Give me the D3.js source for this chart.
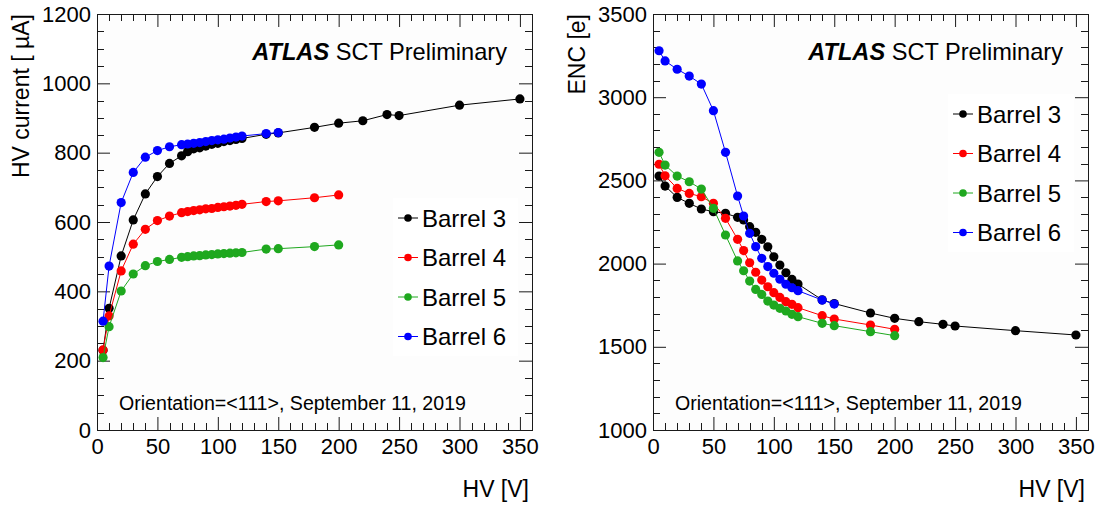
<!DOCTYPE html>
<html>
<head>
<meta charset="utf-8">
<script src="https://cdn.jsdelivr.net/npm/d3@7"></script>
<style>
  body { margin: 0; background: #fff; }
  svg { display: block; font-family: "Liberation Sans", Arial, Helvetica, sans-serif; }
</style>
</head>
<body>
<div id="container"></div>
<script>
/* DATA: HV POINTS [V] PER BARREL */
const hvB3 = [5, 10, 20, 30, 40, 50, 60, 70, 75, 80, 85, 90, 95, 100, 105, 110, 115, 120, 140, 150, 180, 200, 220, 240, 250, 300, 350];
const hvB4 = [5, 10, 20, 30, 40, 50, 60, 70, 75, 80, 85, 90, 95, 100, 105, 110, 115, 120, 140, 150, 180, 200];
const hvB5 = [5, 10, 20, 30, 40, 50, 60, 70, 75, 80, 85, 90, 95, 100, 105, 110, 115, 120, 140, 150, 180, 200];
const hvB6 = [5, 10, 20, 30, 40, 50, 60, 70, 75, 80, 85, 90, 95, 100, 105, 110, 115, 120, 140, 150];

/* HV CURRENT [uA] */
const curB3 = [230, 351, 502, 606, 681, 731, 769, 791, 803, 811, 814, 819, 824, 827, 832, 835, 838, 841, 853, 857, 873, 885, 892, 910, 907, 937, 955];
const curB4 = [231, 329, 459, 536, 579, 604, 617, 627, 630, 633, 635, 638, 639, 642, 644, 646, 648, 651, 659, 661, 670, 678];
const curB5 = [209, 298, 401, 450, 474, 486, 492, 498, 500, 502, 503, 505, 506, 508, 509, 510, 511, 512, 522, 523, 529, 534];
const curB6 = [314, 473, 656, 743, 787, 806, 817, 823, 825, 827, 829, 832, 835, 837, 839, 842, 845, 848, 855, 858];

/* ENC [e] */
const encB3 = [2526, 2466, 2398, 2362, 2328, 2312, 2302, 2278, 2262, 2222, 2188, 2146, 2101, 2041, 1991, 1945, 1905, 1877, 1782, 1760, 1703, 1671, 1651, 1635, 1625, 1597, 1571];
const encB4 = [2597, 2528, 2452, 2422, 2402, 2362, 2272, 2146, 2078, 2005, 1948, 1901, 1861, 1825, 1797, 1771, 1755, 1735, 1687, 1667, 1631, 1605];
const encB5 = [2669, 2592, 2526, 2492, 2448, 2332, 2172, 2016, 1957, 1895, 1845, 1815, 1775, 1751, 1731, 1715, 1695, 1681, 1641, 1627, 1591, 1567];
const encB6 = [3279, 3218, 3168, 3127, 3079, 2919, 2669, 2406, 2286, 2182, 2102, 2032, 1982, 1942, 1906, 1876, 1855, 1837, 1781, 1757];

const barrelNames = ["Barrel 3", "Barrel 4", "Barrel 5", "Barrel 6"];
const barrelColors = ["#000000", "#ff0000", "#1fa81f", "#0000ff"];

/* TICKS */
const xMajor = [0, 50, 100, 150, 200, 250, 300, 350];
const curMajor = [0, 200, 400, 600, 800, 1000, 1200];
const encMajor = [1000, 1500, 2000, 2500, 3000, 3500];

/* CONSTANTS AND GLOBALS */
const width = 1097, height = 507;
const frameColor = "#1a1a1a";

const series = barrelNames.map((name, i) => ({
  name,
  color: barrelColors[i],
  hv: [hvB3, hvB4, hvB5, hvB6][i],
  cur: [curB3, curB4, curB5, curB6][i],
  enc: [encB3, encB4, encB5, encB6][i]
}));

const svg = d3.select("#container")
  .append("svg")
  .attr("width", width)
  .attr("height", height);

function drawPanel(p) {
  const x = d3.scaleLinear().domain([0, 360]).range([p.x0, p.x1]);
  const y = d3.scaleLinear().domain(p.yDomain).range([p.y1, p.y0]);
  const g = svg.append("g");

  // FRAME
  g.append("rect")
    .attr("x", p.x0 + 0.5).attr("y", p.y0 + 0.5)
    .attr("width", p.x1 - p.x0).attr("height", p.y1 - p.y0)
    .attr("fill", "#fdfdfd")
    .attr("stroke", frameColor);

  // MINOR TICKS
  const xMinor = d3.range(0, 361, 10).filter(v => v % 50 !== 0);
  const yMinor = d3.range(p.yDomain[0], p.yDomain[1] + 1, p.yMinorStep).filter(v => v % p.yMajorStep !== 0);

  const ticks = g.append("g").attr("stroke", frameColor).attr("stroke-width", 1);
  xMinor.forEach(v => {
    const px = Math.round(x(v)) + 0.5;
    ticks.append("line").attr("x1", px).attr("x2", px).attr("y1", p.y1).attr("y2", p.y1 - 7);
    ticks.append("line").attr("x1", px).attr("x2", px).attr("y1", p.y0).attr("y2", p.y0 + 7);
  });
  yMinor.forEach(v => {
    const py = Math.round(y(v)) + 0.5;
    ticks.append("line").attr("y1", py).attr("y2", py).attr("x1", p.x0).attr("x2", p.x0 + 7);
    ticks.append("line").attr("y1", py).attr("y2", py).attr("x1", p.x1).attr("x2", p.x1 - 7);
  });

  // MAJOR TICKS + LABELS
  const axB = g.append("g").attr("transform", `translate(0,${p.y1})`)
    .call(d3.axisBottom(x).tickValues(xMajor).tickSize(-13).tickPadding(8).tickFormat(d3.format("d")));
  const axT = g.append("g").attr("transform", `translate(0,${p.y0})`)
    .call(d3.axisTop(x).tickValues(xMajor).tickSize(-13).tickFormat(""));
  const axL = g.append("g").attr("transform", `translate(${p.x0},0)`)
    .call(d3.axisLeft(y).tickValues(p.yMajor).tickSize(-13).tickPadding(6).tickFormat(d3.format("d")));
  const axR = g.append("g").attr("transform", `translate(${p.x1},0)`)
    .call(d3.axisRight(y).tickValues(p.yMajor).tickSize(-13).tickFormat(""));

  [axB, axT, axL, axR].forEach(a => {
    a.select(".domain").remove();
    a.selectAll("line").attr("stroke", frameColor);
    a.selectAll("text")
      .attr("fill", "#000")
      .style("font-size", "22px")
      .style("font-family", "'Liberation Sans', Arial, sans-serif");
  });

  // AXIS TITLES
  g.append("text")
    .attr("x", p.x1 - 3).attr("y", 497)
    .attr("text-anchor", "end")
    .style("font-size", "23px")
    .text("HV [V]");

  g.append("text")
    .attr("transform", `translate(${p.x0 - 68},${p.y0}) rotate(-90)`)
    .attr("text-anchor", "end")
    .style("font-size", "23px")
    .text(p.yTitle);

  // DATA LINES AND MARKERS
  series.forEach(s => {
    const pts = s.hv.map((v, i) => [v, s[p.key][i]]);
    g.append("path")
      .datum(pts)
      .attr("fill", "none")
      .attr("stroke", s.color)
      .attr("stroke-width", 1)
      .attr("d", d3.line().x(d => x(d[0])).y(d => y(d[1])));
    g.selectAll(null)
      .data(pts)
      .join("circle")
      .attr("cx", d => x(d[0]))
      .attr("cy", d => y(d[1]))
      .attr("r", 4.6)
      .attr("fill", s.color);
  });

  // ATLAS LABEL
  const lab = g.append("text")
    .attr("x", p.atlasX).attr("y", 60)
    .attr("text-anchor", "end")
    .style("font-size", "23.6px");
  lab.append("tspan").style("font-weight", "bold").style("font-style", "italic").text("ATLAS");
  lab.append("tspan").text(" SCT Preliminary");

  // LEGEND
  const leg = g.append("g");
  leg.append("rect")
    .attr("x", p.legX - 5).attr("y", p.legY - 20)
    .attr("width", p.x1 - 14 - (p.legX - 5)).attr("height", 4 * 39.5)
    .attr("fill", "#ffffff");
  series.forEach((s, i) => {
    const ly = p.legY + i * 39.5;
    leg.append("line")
      .attr("x1", p.legX).attr("x2", p.legX + 20)
      .attr("y1", ly).attr("y2", ly)
      .attr("stroke", s.color);
    leg.append("circle")
      .attr("cx", p.legX + 10).attr("cy", ly).attr("r", 3.8)
      .attr("fill", s.color);
    leg.append("text")
      .attr("x", p.legX + 24).attr("y", ly)
      .attr("dy", "0.36em")
      .style("font-size", "24px")
      .text(s.name);
  });

  // ORIENTATION NOTE
  g.append("text")
    .attr("x", p.x0 + 22).attr("y", 409.5)
    .style("font-size", "19.6px")
    .text("Orientation=<111>, September 11, 2019");
}

drawPanel({
  x0: 97, x1: 532, y0: 14, y1: 430,
  yDomain: [0, 1200], yMajor: curMajor, yMajorStep: 200, yMinorStep: 50,
  yTitle: "HV current [ \u00b5A]", key: "cur",
  atlasX: 507, legX: 398, legY: 218
});

drawPanel({
  x0: 653, x1: 1088, y0: 14, y1: 430,
  yDomain: [1000, 3500], yMajor: encMajor, yMajorStep: 500, yMinorStep: 100,
  yTitle: "ENC [e]", key: "enc",
  atlasX: 1063, legX: 953, legY: 114
});
</script>
</body>
</html>
